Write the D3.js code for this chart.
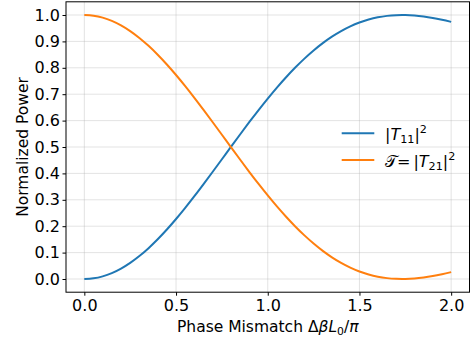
<!DOCTYPE html>
<html>
<head>
<meta charset="utf-8">
<script src="https://cdnjs.cloudflare.com/ajax/libs/d3/7.8.5/d3.min.js"></script>
<style>
html,body{margin:0;padding:0;background:#fff;}
svg{display:block;font-family:"DejaVu Sans",sans-serif;}
</style>
</head>
<body>
<svg id="chart" width="471" height="341"></svg>
<script>
// Data
const mismatch = [0.00,0.05,0.10,0.15,0.20,0.25,0.30,0.35,0.40,0.45,0.50,0.55,0.60,0.65,0.70,0.75,0.80,0.85,0.90,0.95,
  1.00,1.05,1.10,1.15,1.20,1.25,1.30,1.35,1.40,1.45,1.50,1.55,1.60,1.65,1.70,1.75,1.80,1.85,1.90,1.95,2.00];
const transmission21 = [1.0000,0.9975,0.9900,0.9777,0.9606,0.9390,0.9131,0.8831,0.8495,0.8126,0.7728,0.7306,0.6863,0.6405,0.5937,0.5463,0.4988,0.4516,0.4052,0.3601,
  0.3166,0.2750,0.2358,0.1991,0.1652,0.1344,0.1067,0.0822,0.0611,0.0432,0.0286,0.0172,0.0088,0.0033,0.0005,0.0001,0.0020,0.0059,0.0114,0.0183,0.0261];
const reflection11 = [0.0000,0.0025,0.0100,0.0223,0.0394,0.0610,0.0869,0.1169,0.1505,0.1874,0.2272,0.2694,0.3137,0.3595,0.4063,0.4537,0.5012,0.5484,0.5948,0.6399,
  0.6834,0.7250,0.7642,0.8009,0.8348,0.8656,0.8933,0.9178,0.9389,0.9568,0.9714,0.9828,0.9912,0.9967,0.9995,0.9999,0.9980,0.9941,0.9886,0.9817,0.9739];
const xTicks = [0.0,0.5,1.0,1.5,2.0];
const yTicks = [0.0,0.1,0.2,0.3,0.4,0.5,0.6,0.7,0.8,0.9,1.0];

const svg = d3.select("#chart");
const L = 66, R = 469.5, T = 1.8, B = 292.2;
const x = d3.scaleLinear().domain([-0.1, 2.1]).range([L, R]);
const y = d3.scaleLinear().domain([-0.05, 1.05]).range([B, T]);
const fsTick = 16, fsLab = 15.5;

// grid
const grid = svg.append("g");
grid.selectAll("line.v").data(xTicks).enter().append("line")
  .attr("x1", d => x(d)).attr("x2", d => x(d)).attr("y1", T).attr("y2", B)
  .attr("stroke", "#b0b0b0").attr("stroke-opacity", 0.35).attr("stroke-width", 1);
grid.selectAll("line.h").data(yTicks).enter().append("line")
  .attr("x1", L).attr("x2", R).attr("y1", d => y(d)).attr("y2", d => y(d))
  .attr("stroke", "#b0b0b0").attr("stroke-opacity", 0.35).attr("stroke-width", 1);

// axes
const xAxis = d3.axisBottom(x).tickValues(xTicks).tickFormat(d3.format(".1f")).tickSizeInner(3.5).tickSizeOuter(0).tickPadding(4.3);
const yAxis = d3.axisLeft(y).tickValues(yTicks).tickFormat(d3.format(".1f")).tickSizeInner(3.5).tickSizeOuter(0).tickPadding(2.5);
const gx = svg.append("g").attr("transform", `translate(0,${B})`).call(xAxis);
const gy = svg.append("g").attr("transform", `translate(${L},0)`).call(yAxis);
[gx, gy].forEach(g => {
  g.select(".domain").remove();
  g.selectAll("text").attr("font-size", fsTick).attr("font-family", "DejaVu Sans").attr("fill", "#000");
  g.selectAll("line").attr("stroke", "#000");
});

// lines
const line = d3.line().x((d, i) => x(mismatch[i])).y(d => y(d)).curve(d3.curveCatmullRom.alpha(0.5));
svg.append("path").datum(reflection11).attr("d", line).attr("fill", "none")
  .attr("stroke", "#1f77b4").attr("stroke-width", 2);
svg.append("path").datum(transmission21).attr("d", line).attr("fill", "none")
  .attr("stroke", "#ff7f0e").attr("stroke-width", 2);

// frame
svg.append("rect").attr("x", L).attr("y", T).attr("width", R - L).attr("height", B - T)
  .attr("fill", "none").attr("stroke", "#000").attr("stroke-width", 1);

// axis labels
const xl = svg.append("text").attr("x", (L + R) / 2).attr("y", 331.5).attr("text-anchor", "middle")
  .attr("font-size", fsLab);
xl.append("tspan").text("Phase Mismatch Δ");
xl.append("tspan").attr("font-style", "italic").text("βL");
xl.append("tspan").attr("font-size", fsLab * 0.7).attr("dy", 3).text("0");
xl.append("tspan").attr("dy", -3).text("/");
xl.append("tspan").attr("font-style", "italic").text("π");

svg.append("text").attr("transform", `translate(28.3,${(T + B) / 2}) rotate(-90)`)
  .attr("text-anchor", "middle").attr("font-size", fsLab).text("Normalized Power");

// legend
const leg = svg.append("g");
const legendItems = [
  {color: "#1f77b4", yy: 133.3, pre: "", sub: "11"},
  {color: "#ff7f0e", yy: 160, pre: "𝒯", sub: "21"}
];
legendItems.forEach(it => {
  leg.append("line").attr("x1", 341.7).attr("x2", 374.3).attr("y1", it.yy).attr("y2", it.yy)
    .attr("stroke", it.color).attr("stroke-width", 2);
  const t = leg.append("text").attr("x", 385).attr("y", it.yy + 6.5).attr("font-size", fsTick);
  if (it.pre) {
    t.append("tspan").text(it.pre);
    t.append("tspan").text("=");
    t.append("tspan").attr("dx", 3).text("|");
  } else {
    t.append("tspan").text("|");
  }
  t.append("tspan").attr("font-style", "italic").text("T");
  t.append("tspan").attr("font-size", fsTick * 0.7).attr("dy", 3).text(it.sub);
  t.append("tspan").attr("dy", -3).text("|");
  t.append("tspan").attr("font-size", fsTick * 0.7).attr("dy", -6.5).text("2");
});
</script>
</body>
</html>
